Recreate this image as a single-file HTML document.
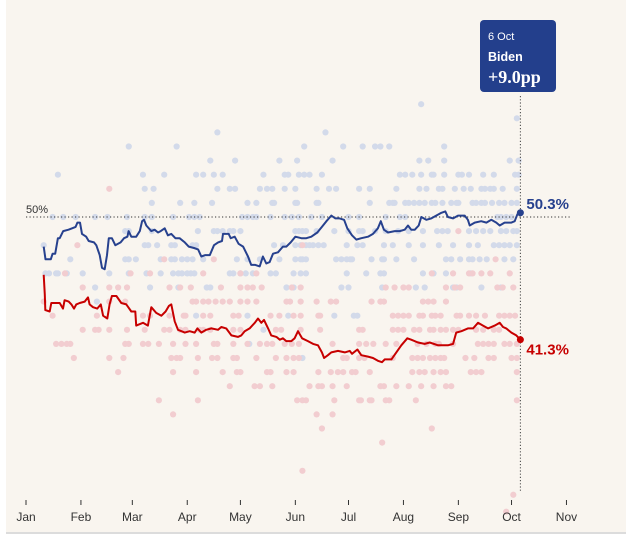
<!DOCTYPE html>
<html><head><meta charset="utf-8">
<style>
html,body{margin:0;padding:0;background:#fff;}
svg{display:block;font-family:"Liberation Sans",sans-serif;}
</style></head>
<body>
<svg id="chart" width="626" height="536" viewBox="0 0 626 536">
<rect x="6" y="0" width="620" height="532" fill="#f9f5ef"/>
<rect x="6" y="532" width="620" height="2" fill="#dcdcdc"/>
<g id="dots"></g>
<g id="ref"></g>
<g id="lines"></g>
<g id="axis"></g>
<g id="labels"></g>
</svg>
<script>
const monthLabels=["Jan","Feb","Mar","Apr","May","Jun","Jul","Aug","Sep","Oct","Nov"];
const monthDays=[0,31,60,91,121,152,182,213,244,274,305];
const bidenDays=[10,11,14,15,16.5,18,19,21,24,26,28,29,30.5,31.6,34,35.4,38.4,39.7,41.6,42.9,44.4,45.7,46.7,48.5,50.4,53.4,55.3,57.2,57.9,59.4,62.2,64.2,65.5,66.6,67.9,70.7,72.6,74.5,76,78.3,80.1,82,84.3,86.7,89.6,91.8,94.8,97.1,98.9,101.2,103.7,106.1,108.4,110.6,111.2,114.4,115.5,117.8,120,122.5,125.3,127.1,129.4,131.9,133.7,135.6,137.5,139.4,142.2,145,146.9,149.4,152,155.4,158.2,161,164.4,167,169.5,172.3,174.6,177,179.5,181.3,184,186.4,189.2,193,195.8,198.6,200.2,202,204.3,208.1,210.9,213.7,215.6,217.4,219.4,221.6,223.1,225.9,228.7,231.5,234.4,236.6,238.1,241,243.8,247.6,249.4,250.4,253.2,256.9,259.8,262.6,265.4,267.3,270.1,273.9,275.8,277.3,279];
const bidenValues=[47.9,47.0,47.0,47.4,47.4,48.5,48.5,49.0,49.1,49.2,49.3,49.6,49.6,48.8,48.6,48.3,48.2,48.0,47.3,46.4,46.3,47.3,48.5,48.5,48.0,48.2,48.5,48.6,49.0,48.6,48.6,49.0,49.7,49.8,49.4,49.0,49.1,48.9,49.0,49.2,48.7,48.8,48.5,48.5,48.2,47.9,47.8,47.7,47.2,47.3,47.3,48.0,48.2,48.3,48.8,48.8,48.5,48.6,48.1,47.9,47.2,46.6,46.6,46.5,47.2,46.7,46.8,47.4,47.5,47.9,47.9,48.2,48.6,48.5,48.5,48.6,48.9,49.3,49.7,50.1,49.9,49.9,49.8,49.2,48.7,48.4,48.5,48.6,48.8,49.2,49.7,49.1,48.9,49.0,49.0,49.1,49.4,49.1,49.1,49.4,50.0,49.8,49.9,50.1,50.3,50.4,50.0,49.9,50.1,50.1,49.8,49.4,49.6,49.7,49.6,49.8,49.6,49.4,49.6,49.6,49.7,50.2,50.3];
const trumpDays=[10,10.6,10.9,13.4,14.3,19,20.9,21.8,24.1,25.6,27.1,28.4,30.3,33.1,35,35.9,37.8,40.2,42.2,43.5,45.9,47.2,48.5,51,53.8,56.6,59.4,61.7,62.2,66,68.8,70.7,73.5,76.4,78.8,80.7,82,83.9,85.8,89.6,92.4,95.2,96.7,98.9,101.7,104.6,108.4,110.2,113,115.9,119.6,121.5,123.4,126.2,129.1,130.9,132.8,134.3,136.6,138.4,141.3,143.2,145,146.9,149.7,151.6,153.5,155.8,159.1,162,164.8,167,168.2,170.4,172.3,176.1,179.9,182.7,184,187,189.2,193,195.8,198.6,200.9,202.4,206.2,209,211.8,215.2,217.4,221.2,225,227.8,232.5,238.1,241,242.8,245.7,249.4,252.3,255.1,257.9,260.7,264.5,267.3,269.2,271,273.9,276.7,279];
const trumpValues=[45.9,44.5,43.4,43.3,43.9,43.9,43.5,44.1,44.0,43.8,43.5,43.8,43.9,44.0,44.3,43.8,43.6,43.5,43.8,43.0,42.8,43.8,44.4,44.4,43.9,43.8,43.3,43.3,42.3,42.5,42.3,43.6,43.2,43.0,43.3,43.7,43.8,42.6,42.0,41.8,41.9,41.8,42.1,41.8,42.0,42.1,42.0,42.2,42.1,41.6,41.5,41.6,41.9,42.1,42.5,42.8,42.5,42.7,42.1,41.6,41.5,41.3,41.4,41.2,41.2,41.4,41.9,41.4,41.2,41.0,40.9,40.4,40.0,40.2,40.4,40.5,40.4,40.5,40.3,40.6,40.2,40.1,40.0,39.8,39.7,39.9,39.9,40.4,40.9,41.4,41.3,41.1,41.0,41.1,40.9,40.9,41.0,41.8,41.9,42.1,42.1,42.5,42.3,42.1,42.3,42.5,42.2,42.1,41.8,41.6,41.3];
const bidenPollValues=[58,57,56,55,54,53,52,51,50,49,48,47,46,45,44,43,42,41,40];
const bidenPollDays=[
[223],[277],[108,169],[58,85,157,179,190,197,200,205,236],
[104,118,143,153,173,222,227,236,273,278],
[18,66,78,96,100,106,111,134,146,148,154,157,160,167,211,214,218,223,229,230,236,244,246,250,258,264,276,278],
[67,72,108,115,118,132,136,139,146,152,164,171,175,188,194,209,222,226,233,235,242,247,251,257,259,262,264,269,277],
[71,87,95,105,125,130,139,140,152,153,164,165,194,205,207,208,214,216,219,222,225,229,231,235,240,243,244,252,254,257,259,263,267,270,274,277],
[15,21,28,39,46,57,67,71,83,92,95,98,122,125,128,130,138,146,150,154,161,167,182,188,203,211,214,266,268,271,274],
[56,58,71,97,106,108,111,115,117,121,152,154,156,158,164,174,182,188,190,197,203,210,216,224,232,235,238,250,254,258,262,268,271,275,277],
[10,67,69,74,82,84,94,96,140,145,152,155,158,160,162,165,168,181,187,190,202,207,216,224,233,241,250,255,264,267,270,273,277],
[25,56,58,62,76,82,84,88,91,94,100,119,125,132,143,152,155,156,158,175,178,181,183,184,195,201,202,209,219,237,240,245,250,252,256,260,270,275],
[11,13,17,18,23,32,47,58,68,76,83,86,88,91,93,95,115,117,121,124,128,138,141,151,155,158,181,192,200,202,224,230,237,251],
[39,70,86,102,104,147,151,178,182,201,220,225,241,243,257,268],
[40],[96,125,148,174,185,187],[134],[126],[156]];
const trumpPollValues=[52,49,48,47,46,45,44,43,42,41,40,39,38,37,36,35,34,32,30.3,29.1];
const trumpPollDays=[
[47],[244],[29,156],[78,106,265],
[22,59,70,100,121,130,229,241,250,252,257,262,273],
[32,47,52,57,81,87,93,110,121,125,128,133,150,155,203,208,213,216,237,242,245,266,269,275],
[10,47,56,94,96,100,103,107,111,115,121,125,130,147,149,155,164,172,175,195,200,202,224,227,230,237],
[15,40,66,70,81,89,90,100,104,117,120,138,143,151,155,165,166,207,210,213,216,222,224,229,231,234,243,245,250,254,259,267,270,273,276],
[32,39,41,47,57,67,78,81,87,90,98,100,104,117,121,141,144,155,166,188,190,207,210,213,219,222,228,230,234,237,241,244,254,258,264,267],
[17,20,23,25,56,58,66,69,75,83,90,96,106,108,117,125,132,136,139,146,150,154,173,188,192,196,203,209,221,226,231,233,241,255,258,261,264,270,273,277],
[27,47,55,82,85,87,97,105,108,117,119,130,141,147,151,154,179,181,188,191,207,218,221,224,228,231,234,236,248,253,261,264,274,277],
[52,83,96,111,119,121,136,138,147,151,165,172,176,179,184,186,194,218,222,225,230,234,237,251,254,257,277],
[115,129,132,139,160,165,167,173,181,200,202,209,216,223,230,237,240],
[75,97,153,156,158,174,188,189,194,195,203,205,220,277],
[83,164,173],[167,229],[201],[156],[275],[271]];
const refValue=50;
const tooltipDate="6 Oct", tooltipName="Biden", tooltipLead="+9.0pp";

const NS="http://www.w3.org/2000/svg";
const xS=d=>26+d*1.772;
const yS=v=>217-(v-50)*14.1;
function mk(tag,attrs,parent){const e=document.createElementNS(NS,tag);for(const k in attrs)e.setAttribute(k,attrs[k]);parent.appendChild(e);return e;}
const gD=document.getElementById('dots');
bidenPollValues.forEach((v,i)=>bidenPollDays[i].forEach(d=>{
  const c=mk('circle',{cx:xS(d),cy:yS(v),r:3.1,fill:'#d3daea'},gD);
  
  
}));
trumpPollValues.forEach((v,i)=>trumpPollDays[i].forEach(d=>{
  const c=mk('circle',{cx:xS(d),cy:yS(v),r:3.1,fill:'#f2cdd0'},gD);
  
  
}));
const gR=document.getElementById('ref');
const rl=mk('line',{x1:26,x2:572,y1:yS(refValue),y2:yS(refValue),stroke:'#333','stroke-width':1,'stroke-dasharray':'1.2,2.3'},gR);


const rt=mk('text',{x:26,y:yS(refValue)-4,'font-size':11,fill:'#333'},gR);rt.textContent=refValue+"%";


const lastD=bidenDays[bidenDays.length-1];
const vl=mk('line',{x1:xS(lastD),x2:xS(lastD),y1:96,y2:492,stroke:'#444','stroke-width':1,'stroke-dasharray':'1.2,2'},gR);



const gL=document.getElementById('lines');
function path(ds,vs,col,name){
  const p=mk('path',{d:ds.map((d,i)=>(i?'L':'M')+xS(d).toFixed(1)+','+yS(vs[i]).toFixed(1)).join(''),fill:'none',stroke:col,'stroke-width':2,'stroke-linejoin':'round'},gL);
  
  
  const n=ds.length-1;
  const c=mk('circle',{cx:xS(ds[n]),cy:yS(vs[n]),r:3.5,fill:col},gL);
  
  
  return [xS(ds[n]),yS(vs[n])];
}
const bE=path(bidenDays,bidenValues,'#27418e','biden-line');
const tE=path(trumpDays,trumpValues,'#c70000','trump-line');
const gLab=document.getElementById('labels');
const bl=mk('text',{x:bE[0]+6,y:bE[1]-4,'font-size':15,'font-weight':'bold',fill:'#27418e'},gLab);
bl.textContent=bidenValues[bidenValues.length-1].toFixed(1)+"%";


const tl=mk('text',{x:tE[0]+6,y:tE[1]+15,'font-size':15,'font-weight':'bold',fill:'#c70000'},gLab);
tl.textContent=trumpValues[trumpValues.length-1].toFixed(1)+"%";



const tip=mk('g',{},gLab);


mk('rect',{x:480,y:20,width:76,height:72,rx:4,fill:'#233f8c'},tip);
const t1=mk('text',{x:488,y:40,'font-size':11,fill:'#fff'},tip);t1.textContent=tooltipDate;
const t2=mk('text',{x:488,y:61,'font-size':12.5,'font-weight':'bold',fill:'#fff'},tip);t2.textContent=tooltipName;
const t3=mk('text',{x:488,y:83,'font-size':18,'font-weight':'bold',fill:'#fff','font-family':'"Liberation Serif",serif'},tip);t3.textContent=tooltipLead;

const gA=document.getElementById('axis');
monthLabels.forEach((m,i)=>{
  const x=xS(monthDays[i]);
  const tk=mk('line',{x1:x,x2:x,y1:500,y2:505,stroke:'#333','stroke-width':1},gA);
  
  
  const t=mk('text',{x:x,y:521,'font-size':12,fill:'#333','text-anchor':'middle'},gA);
  t.textContent=m;
  
  
});
</script>
</body></html>
